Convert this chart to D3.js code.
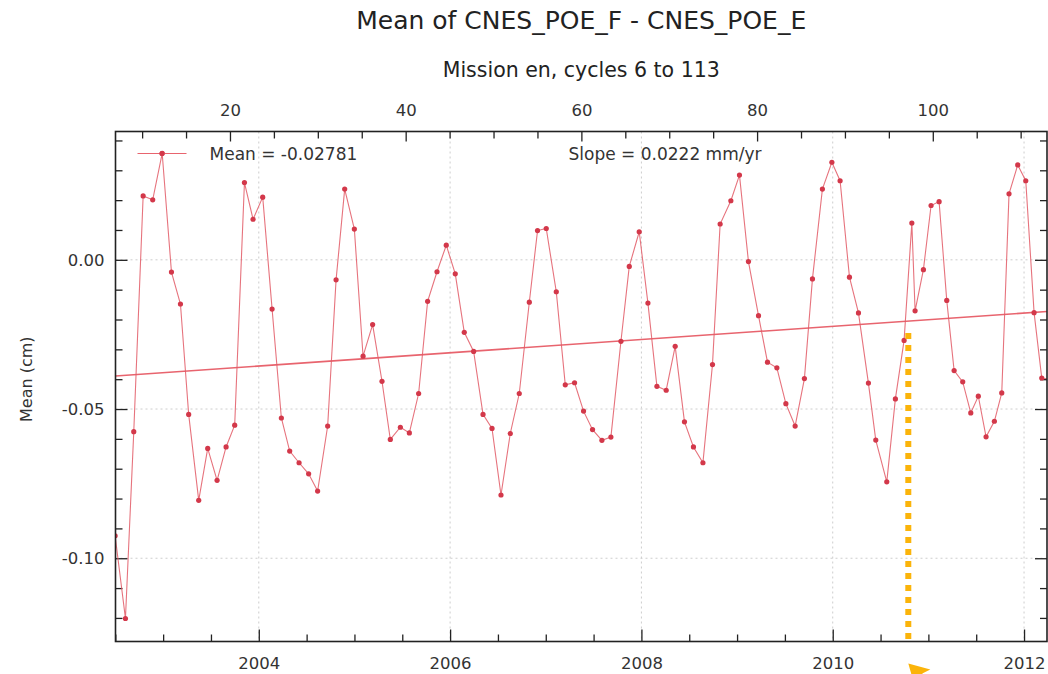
<!DOCTYPE html>
<html>
<head>
<meta charset="utf-8">
<script src="https://cdn.jsdelivr.net/npm/d3@7/dist/d3.min.js"></script>
<style>
  html, body { margin: 0; padding: 0; background: #fff; }
  svg { display: block; font-family: 'DejaVu Sans', sans-serif; }
</style>
</head>
<body>
<div id="chart"></div>
<script>
// Cycle dates (decimal year) and mean difference (cm)
const dates = [
  2002.498, 2002.606, 2002.693, 2002.791, 2002.891, 2002.990, 2003.087, 2003.181, 2003.267, 2003.372,
  2003.466, 2003.564, 2003.658, 2003.748, 2003.850, 2003.940, 2004.041, 2004.139, 2004.236, 2004.323,
  2004.421, 2004.521, 2004.615, 2004.720, 2004.808, 2004.898, 2004.999, 2005.090, 2005.190, 2005.288,
  2005.375, 2005.480, 2005.574, 2005.671, 2005.765, 2005.863, 2005.960, 2006.054, 2006.148, 2006.246,
  2006.344, 2006.438, 2006.532, 2006.629, 2006.723, 2006.828, 2006.914, 2007.005, 2007.110, 2007.204,
  2007.301, 2007.395, 2007.489, 2007.587, 2007.681, 2007.786, 2007.873, 2007.977, 2008.068, 2008.162,
  2008.259, 2008.353, 2008.450, 2008.544, 2008.643, 2008.743, 2008.823, 2008.935, 2009.025, 2009.119,
  2009.224, 2009.318, 2009.416, 2009.510, 2009.607, 2009.704, 2009.788, 2009.892, 2009.991, 2010.077,
  2010.175, 2010.269, 2010.373, 2010.450, 2010.565, 2010.655, 2010.746, 2010.827, 2010.861, 2010.948,
  2011.028, 2011.112, 2011.192, 2011.269, 2011.359, 2011.443, 2011.522, 2011.603, 2011.690, 2011.767,
  2011.843, 2011.934, 2012.018, 2012.105, 2012.185, 2012.278
];
const means = [
  -0.0925, -0.1202, -0.0576, 0.0214, 0.0201, 0.0357, -0.0041, -0.0148, -0.0518, -0.0806,
  -0.0632, -0.0739, -0.0627, -0.0554, 0.0259, 0.0136, 0.0210, -0.0165, -0.0530, -0.0641,
  -0.0680, -0.0717, -0.0775, -0.0557, -0.0067, 0.0237, 0.0103, -0.0323, -0.0217, -0.0407,
  -0.0602, -0.0561, -0.0580, -0.0448, -0.0139, -0.0040, 0.0049, -0.0047, -0.0243, -0.0307,
  -0.0518, -0.0565, -0.0788, -0.0582, -0.0448, -0.0142, 0.0098, 0.0105, -0.0107, -0.0419,
  -0.0412, -0.0507, -0.0569, -0.0605, -0.0594, -0.0273, -0.0022, 0.0094, -0.0145, -0.0424,
  -0.0437, -0.0290, -0.0543, -0.0627, -0.0680, -0.0351, 0.0120, 0.0198, 0.0284, -0.0006,
  -0.0187, -0.0343, -0.0362, -0.0482, -0.0557, -0.0398, -0.0064, 0.0237, 0.0327, 0.0265,
  -0.0058, -0.0178, -0.0413, -0.0604, -0.0744, -0.0466, -0.0270, 0.0123, -0.0171, -0.0033,
  0.0182, 0.0195, -0.0136, -0.0371, -0.0409, -0.0513, -0.0457, -0.0593, -0.0541, -0.0446,
  0.0221, 0.0318, 0.0265, -0.0177, -0.0396, -0.0400
];

const MEAN_ALL = -0.02781;     // cm
const SLOPE_MM_YR = 0.0222;    // mm/yr

const yearTicks = [2004, 2006, 2008, 2010, 2012];
const cycleTicks = [20, 40, 60, 80, 100];
const meanTicks = [0, -0.05, -0.10];

const yearDomain = [2002.502, 2012.24];
const cycleDomain = [6.97, 113.0];
const meanDomain = [-0.1279, 0.0430];

// annotation marker (dotted guide)
const markDate = 2010.79;
const markTop = -0.0245;

const W = 1048, H = 674;
const margin = { top: 131.5, left: 115.5, right: 1, bottom: 32.5 };
const pw = W - margin.left - margin.right;
const ph = H - margin.top - margin.bottom;

const svg = d3.select('#chart').append('svg')
  .attr('width', W)
  .attr('height', H);

const x = d3.scaleLinear().domain(yearDomain).range([0, pw]);
const xc = d3.scaleLinear().domain(cycleDomain).range([0, pw]);
const y = d3.scaleLinear().domain(meanDomain).range([ph, 0]);

const g = svg.append('g').attr('transform', `translate(${margin.left},${margin.top})`);

svg.append('defs').append('clipPath').attr('id', 'clip')
  .append('rect').attr('width', pw).attr('height', ph);

// grid
const gridStyle = sel => sel
  .attr('stroke', '#cdcdcd')
  .attr('stroke-width', 1)
  .attr('stroke-dasharray', '2,3');

g.append('g').selectAll('line').data(yearTicks).join('line')
  .attr('x1', d => x(d)).attr('x2', d => x(d))
  .attr('y1', 0).attr('y2', ph)
  .call(gridStyle);
g.append('g').selectAll('line').data(meanTicks).join('line')
  .attr('x1', 0).attr('x2', pw)
  .attr('y1', d => y(d)).attr('y2', d => y(d))
  .call(gridStyle);

// axes (ticks inward on all four sides)
const minorYears = d3.range(2002.5, 2012.3, 0.5).filter(d => !yearTicks.includes(d));
const minorCycles = d3.range(10, 113, 5).filter(d => !cycleTicks.includes(d));
const minorMeans = d3.range(-12, 5).map(d => d / 100).filter(d => !meanTicks.some(t => Math.abs(t - d) < 1e-9));
const fmtMean = d => d3.format('.2f')(d).replace('\u2212', '-');

function styleAxis(sel) {
  sel.select('.domain').remove();
  sel.selectAll('.tick line').attr('stroke', '#222').attr('stroke-width', 1.3);
  sel.selectAll('.tick text').attr('fill', '#333').attr('font-size', '16.5px')
    .attr('font-family', "'DejaVu Sans', sans-serif");
}

g.append('g').attr('transform', `translate(0,${ph})`)
  .call(d3.axisBottom(x).tickValues(yearTicks).tickFormat(d3.format('d')).tickSizeInner(-12).tickPadding(16))
  .call(styleAxis);
g.append('g').attr('transform', `translate(0,${ph})`)
  .call(d3.axisBottom(x).tickValues(minorYears).tickFormat('').tickSizeInner(-7))
  .call(styleAxis);

g.append('g')
  .call(d3.axisTop(xc).tickValues(cycleTicks).tickFormat(d3.format('d')).tickSizeInner(-10).tickPadding(16))
  .call(styleAxis);
g.append('g')
  .call(d3.axisTop(xc).tickValues(minorCycles).tickFormat('').tickSizeInner(-7))
  .call(styleAxis);

g.append('g')
  .call(d3.axisLeft(y).tickValues(meanTicks).tickFormat(fmtMean).tickSizeInner(-12).tickPadding(11))
  .call(styleAxis);
g.append('g')
  .call(d3.axisLeft(y).tickValues(minorMeans).tickFormat('').tickSizeInner(-7))
  .call(styleAxis);

g.append('g').attr('transform', `translate(${pw},0)`)
  .call(d3.axisRight(y).tickValues(meanTicks).tickFormat('').tickSizeInner(-12))
  .call(styleAxis);
g.append('g').attr('transform', `translate(${pw},0)`)
  .call(d3.axisRight(y).tickValues(minorMeans).tickFormat('').tickSizeInner(-7))
  .call(styleAxis);

// data
const points = dates.map((d, i) => ({ t: d, v: means[i] }));
const tMid = d3.mean(dates);
const slope = SLOPE_MM_YR / 10; // cm/yr
const trend = yearDomain.map(t => ({ t, v: MEAN_ALL + slope * (t - tMid) }));

const plot = g.append('g').attr('clip-path', 'url(#clip)');

plot.append('path')
  .datum(trend)
  .attr('fill', 'none')
  .attr('stroke', '#e8646e')
  .attr('stroke-width', 1.6)
  .attr('d', d3.line().x(d => x(d.t)).y(d => y(d.v)));

plot.append('path')
  .datum(points)
  .attr('fill', 'none')
  .attr('stroke', '#e25a66')
  .attr('stroke-opacity', 0.85)
  .attr('stroke-width', 1.1)
  .attr('d', d3.line().x(d => x(d.t)).y(d => y(d.v)));

plot.append('g').selectAll('circle').data(points).join('circle')
  .attr('cx', d => x(d.t))
  .attr('cy', d => y(d.v))
  .attr('r', 2.6)
  .attr('fill', '#d3384a');

// frame
g.append('rect')
  .attr('width', pw).attr('height', ph)
  .attr('fill', 'none')
  .attr('stroke', '#222')
  .attr('stroke-width', 1.6);

// legend
const leg = g.append('g').attr('transform', 'translate(22,22)');
leg.append('line')
  .attr('x1', 0).attr('x2', 49).attr('y1', 0).attr('y2', 0)
  .attr('stroke', '#e8646e').attr('stroke-width', 1.2);
leg.append('circle').attr('cx', 24.5).attr('cy', 0).attr('r', 2.6).attr('fill', '#d3384a');
leg.append('text')
  .attr('x', 72).attr('y', 6)
  .attr('font-size', '17px').attr('fill', '#333')
  .text(`Mean = ${MEAN_ALL}`);
g.append('text')
  .attr('x', 453).attr('y', 28)
  .attr('font-size', '17px').attr('fill', '#333')
  .text(`Slope = ${SLOPE_MM_YR} mm/yr`);

// titles
svg.append('text')
  .attr('x', margin.left + pw / 2).attr('y', 29)
  .attr('text-anchor', 'middle')
  .attr('font-size', '25px').attr('fill', '#222')
  .text('Mean of CNES_POE_F - CNES_POE_E');
svg.append('text')
  .attr('x', margin.left + pw / 2).attr('y', 77)
  .attr('text-anchor', 'middle')
  .attr('font-size', '20.5px').attr('fill', '#222')
  .text('Mission en, cycles 6 to 113');
svg.append('text')
  .attr('transform', `translate(32,${margin.top + y(-0.04)}) rotate(-90)`)
  .attr('text-anchor', 'middle')
  .attr('font-size', '16px').attr('fill', '#333')
  .text('Mean (cm)');

// orange dotted guide + arrow head
g.append('line')
  .attr('x1', x(markDate)).attr('x2', x(markDate))
  .attr('y1', y(markTop)).attr('y2', ph)
  .attr('stroke', '#fbb40a')
  .attr('stroke-width', 6)
  .attr('stroke-dasharray', '6,6');
const ax = margin.left + x(markDate), ay = margin.top + ph + 22;
svg.append('path')
  .attr('d', `M${ax},${ay} L${ax + 22},${ay + 6} L${ax + 14},${ay + 10} L${ax + 16},${ay + 14} L${ax + 4},${ay + 14} Z`)
  .attr('fill', '#fbb40a');
</script>
</body>
</html>
